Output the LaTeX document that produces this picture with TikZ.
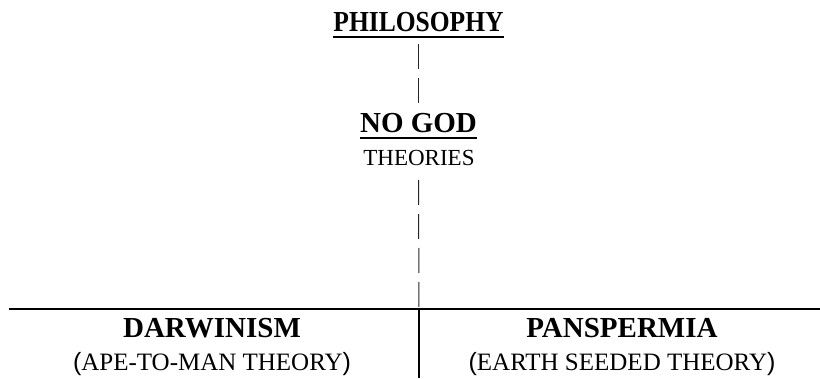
\documentclass[tikz,border=0pt]{standalone}
\usepackage{fontspec}
\setmainfont{Liberation Serif}
\newfontfamily\parfont{Liberation Sans}
\begin{document}
\begin{tikzpicture}[x=1pt,y=1pt,
  lbl/.style={inner sep=0pt, anchor=base},
  big/.style={lbl, font=\fontsize{29}{32}\selectfont\bfseries},
  small/.style={lbl, font=\fontsize{23}{26}\selectfont},
  sub/.style={lbl, font=\fontsize{25}{28}\selectfont},
  dashline/.style={line width=1pt, black!85, dash pattern=on 25pt off 9pt},
  uline/.style={line width=2.2pt},
  rule/.style={line width=2.2pt}]
\useasboundingbox (0,0) rectangle (820,378);
\node[big] (philo) at (418.5,346) {\scalebox{0.88}[1]{PHILOSOPHY}};
\node[big] (nogod) at (418.5,245) {NO GOD};
\node[small] (theo) at (419,212) {THEORIES};
\node[big] (darw) at (212,41) {DARWINISM};
\node[sub] (ape) at (212,8) {{\parfont(}APE-TO-MAN THEORY{\parfont)}};
\node[big] (pans) at (622,41) {PANSPERMIA};
\node[sub] (earth) at (622,8) {{\parfont(}EARTH SEEDED THEORY{\parfont)}};
\coordinate (lineL) at (9,69);
\coordinate (lineR) at (820,69);
\coordinate (mid) at (419,69);
\coordinate (bot) at (419,0);
\draw[uline] ([yshift=-5pt]philo.base west) -- ([yshift=-5pt]philo.base east);
\draw[uline] ([yshift=-5pt]nogod.base west) -- ([yshift=-5pt]nogod.base east);
\draw[dashline] (418.5,334) -- (418.5,275);
\draw[dashline] (418.5,198) -- (mid);
\draw[rule] (lineL) -- (lineR);
\draw[rule] (mid) -- (bot);
\end{tikzpicture}
\end{document}
